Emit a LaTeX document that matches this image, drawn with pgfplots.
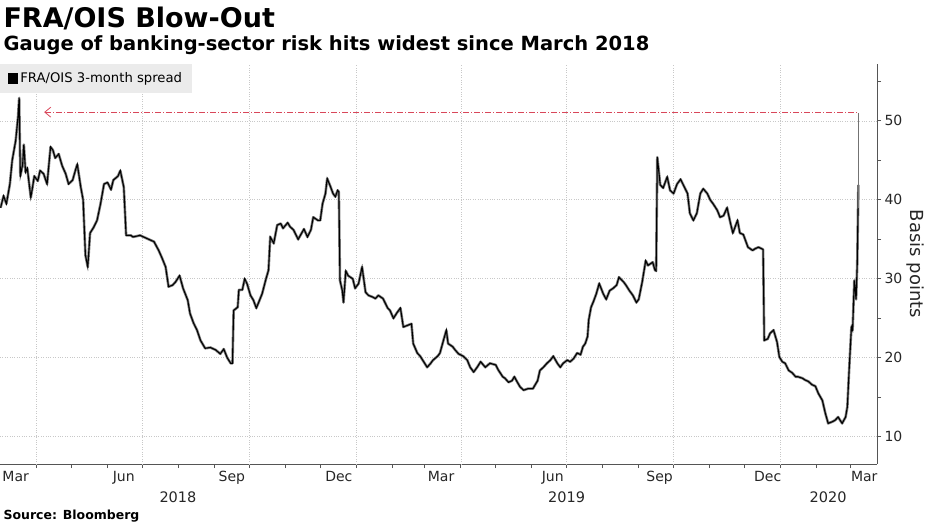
\documentclass[border=0pt]{standalone}
\usepackage{fontspec}
\setmainfont{DejaVu Sans}
\usepackage{pgfplots}
\pgfplotsset{compat=1.18}
\usetikzlibrary{arrows.meta}
\definecolor{gridgray}{HTML}{C8C8C8}
\definecolor{axisgray}{HTML}{555555}
\definecolor{refred}{HTML}{D9475A}
\definecolor{legfill}{HTML}{EBEBEB}

% FRA/OIS 3-month spread, basis points; day = days since 1 Mar 2018
\pgfplotstableread{
day spread
0 39.0
2.6 40.5
5 39.5
8 42.0
10 45.0
13 47.5
15 50.5
16 52.9
17 43.0
19 44.5
20 47.0
21.5 43.5
23 44.0
26 40.3
27.5 41.6
29 43.0
32 42.4
34 43.7
37 43.3
40 42.0
43 46.7
45 46.3
47 45.3
50 45.8
53 44.3
56 43.3
58.5 42.0
62 42.5
64.5 43.8
66 44.5
69 41.6
71 40.0
73 33.0
75 31.5
77 35.8
80 36.5
83 37.4
86 39.5
89 42.0
92 42.2
95 41.3
97 42.5
101 43.0
103 43.7
106 41.6
108 35.5
112 35.5
114 35.3
120 35.5
126 35.1
132 34.7
136 33.6
139 32.6
142 31.5
144.5 29.0
148 29.2
150.5 29.6
154 30.4
157 28.8
161 27.3
163 25.6
166 24.4
169 23.5
172 22.2
176 21.2
180.5 21.3
185 21.0
189 20.5
192 21.1
195 20.0
198 19.3
199.5 19.3
200.5 26.0
204 26.4
205 28.6
208 28.6
210 30.0
212 29.4
215 27.9
217.5 27.3
220 26.3
222 27.0
225 28.1
228 29.8
230.5 31.1
232 35.3
235 34.5
238 36.8
241 37.0
243 36.4
247 37.1
249 36.6
252 36.2
256 35.0
261 36.3
264 35.3
267 36.2
269 37.8
273 37.4
275 37.4
277 39.5
279.5 40.8
281 42.7
284 41.6
286 40.8
288 40.4
290 41.2
291 41.0
292 29.8
294 28.5
295 27.0
297 31.0
299 30.4
303 30.0
305 28.8
308 29.4
311 31.5
314 28.3
316.5 27.9
320 27.7
322.5 27.5
325 27.9
329 27.5
333 26.3
335 26.0
338 25.0
341 25.7
344 26.3
346.5 23.9
350 24.1
353.5 24.3
355 21.8
358.5 20.6
361 20.2
364 19.5
367 18.8
370 19.3
372 19.7
376 20.2
378 20.6
381 22.2
383.5 23.5
385 21.8
389 21.4
391 21.0
394 20.5
398 20.2
401.5 19.7
404 18.8
407 18.2
410 18.8
413 19.5
417 18.8
421 19.3
426 19.1
428 18.5
432 17.6
434 17.4
437 16.9
440 17.1
442 17.6
445 16.8
447 16.3
450 15.9
454 16.1
458 16.1
462 17.1
464 18.4
467 18.8
470 19.3
473 19.7
475.5 20.2
479 19.3
481.5 18.8
484 19.3
487.5 19.7
490 19.5
493 19.9
496 20.6
499 20.4
501 21.4
503 21.8
505 22.7
506 24.8
508 26.4
510 27.1
512.5 28.1
515 29.4
518.5 28.1
521 27.4
524 28.5
527 28.8
530 29.2
532 30.2
536 29.6
538 29.2
541 28.5
544 27.9
547 27.0
549 27.4
552 29.6
555 32.3
557 31.7
561 32.1
563 31.1
564 31.0
565 45.4
567.5 41.9
570 41.5
573.5 42.9
576 41.2
579 40.8
582 42.0
585 42.6
587 42.0
591 40.8
593 38.3
596 37.4
599 38.3
602 40.8
604.5 41.4
608 40.8
610.5 40.0
613 39.5
616.5 38.7
619 37.8
622 38.0
625 39.0
628 37.0
630 35.8
634 37.4
636 35.8
639 35.6
643 34.0
647 33.6
649 33.8
652 34.0
655 33.8
656 33.7
657 22.2
660 22.4
662 23.1
665 23.5
668 22.0
670 20.1
672.5 19.5
675 19.3
678 18.4
681 18.1
684 17.6
686 17.6
690 17.4
692 17.2
695 17.0
698 16.6
701 16.4
703.5 15.5
707 14.6
709.5 13.0
712 11.7
715.5 11.9
718 12.1
720.5 12.5
724 11.7
727 12.5
728.5 13.8
730 18.4
732 23.9
733 23.5
734.5 29.8
736 27.4
737 31.9
738 41.9
}\spreaddata

\begin{document}
\begin{tikzpicture}[x=1pt,y=1pt]
\useasboundingbox (0,-59) rectangle (930,464);
\begin{axis}[
  at={(0,0)}, anchor=south west,
  scale only axis, width=877pt, height=400pt,
  xmin=-0.5, xmax=754, ymin=6.55, ymax=57.2,
  clip=false,
  axis x line*=bottom, axis y line*=right,
  axis line style={axisgray, line width=0.8pt},
  tick align=outside,
  major tick length=4pt, minor tick length=4pt,
  every tick/.style={axisgray, line width=0.8pt},
  /pgf/number format/assume math mode=true,
  ticklabel style={font=\fontsize{14}{16}\selectfont, text=black!85},
  xtick={13,106,199,291,379,475,567,660,743},
  xticklabels={Mar,Jun,Sep,Dec,Mar,Jun,Sep,Dec,Mar},
  major x tick style={draw=none},
  minor xtick={31,61,92,122,153,184,214,245,275,306,337,365,396,426,457,487,518,549,579,610,640,671,702,731},
  extra x ticks={31,122,214,306,396,487,579,671},
  extra x tick labels={},
  extra x tick style={grid=major},
  ytick={10,20,30,40,50},
  minor ytick={15,25,35,45,55},
  ymajorgrids,
  major grid style={gridgray, dotted, line width=0.7pt},
  legend style={at={(0,1)}, anchor=north west, draw=none, fill=legfill,
    font=\fontsize{13.2}{15}\selectfont, inner xsep=8pt, inner ysep=6.5pt},
  legend cell align=left,
  legend image code/.code={\fill[black] (0pt,-4.5pt) rectangle (9pt,4.5pt);},
]
\addplot[black!50, line width=2.6pt, line join=round, forget plot] table[x=day, y=spread]{\spreaddata};
\addplot[black, line width=1.1pt] table[x=day, y=spread]{\spreaddata};
\addlegendentry{FRA/OIS 3-month spread}
\addplot[black!55, line width=1.2pt, forget plot] coordinates {(738,39.0) (738,51.0)};
\addplot[refred, line width=0.8pt, dash pattern=on 6pt off 2pt on 1pt off 2pt,
  {Straight Barb[length=6pt, width=10pt]}-, forget plot]
  coordinates {(37.5,51.1) (738.5,51.1)};
\node[anchor=base, font=\fontsize{14.5}{16}\selectfont, text=black!85] at (axis cs:152.6,6.55) [yshift=-38pt] {2018};
\node[anchor=base, font=\fontsize{14.5}{16}\selectfont, text=black!85] at (axis cs:487,6.55) [yshift=-38pt] {2019};
\node[anchor=base, font=\fontsize{14.5}{16}\selectfont, text=black!85] at (axis cs:712,6.55) [yshift=-38pt] {2020};
\draw[black!45, line width=0.8pt] (axis cs:306,6.55) ++(0,-19pt) -- ++(0,-20pt);
\draw[black!45, line width=0.8pt] (axis cs:671,6.55) ++(0,-19pt) -- ++(0,-20pt);
\node[xshift=38pt, rotate=-90, anchor=center, font=\fontsize{18}{20}\selectfont, text=black!85] at (rel axis cs:1,0.5) {Basis points};
\end{axis}
\node[anchor=base west, font=\bfseries\fontsize{27}{32}\selectfont] at (0,436) {FRA/OIS Blow-Out};
\node[anchor=base west, font=\bfseries\fontsize{19.5}{23}\selectfont] at (0,413) {Gauge of banking-sector risk hits widest since March 2018};
\node[anchor=base west, font=\bfseries\fontsize{12.5}{15}\selectfont] at (0,-55) {Source: Bloomberg};
\end{tikzpicture}
\end{document}
